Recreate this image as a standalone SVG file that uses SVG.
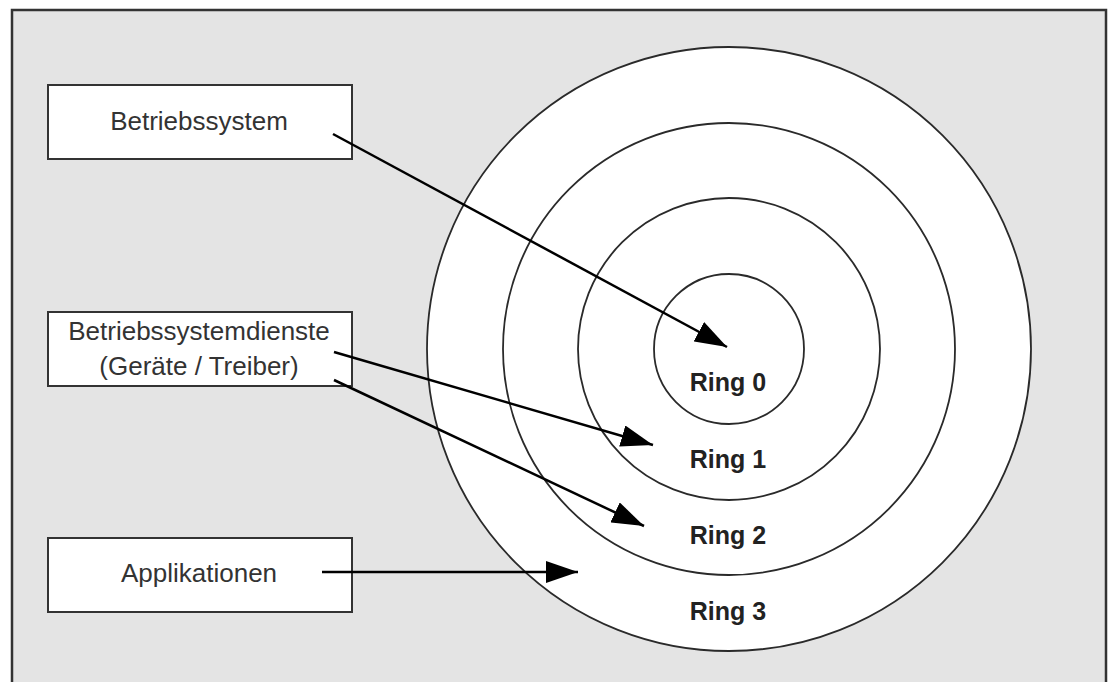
<svg xmlns="http://www.w3.org/2000/svg" width="1115" height="682" viewBox="0 0 1115 682">
  <style>
    .box { fill: #ffffff; stroke: #333333; stroke-width: 2; }
    .ring { fill: #ffffff; stroke: #2a2a2a; stroke-width: 1.8; }
    .label { font-family: "Liberation Sans", Arial, sans-serif; font-size: 26px; fill: #333333; text-anchor: middle; }
    .ringlabel { font-family: "Liberation Sans", Arial, sans-serif; font-size: 25px; font-weight: bold; fill: #222222; text-anchor: middle; }
    .arrow { stroke: #000000; stroke-width: 2.5; fill: none; marker-end: url(#head); }
  </style>
  <defs>
    <marker id="head" viewBox="0 0 32 22" refX="32" refY="11" markerWidth="32" markerHeight="22" markerUnits="userSpaceOnUse" orient="auto">
      <path d="M0,0 L32,11 L0,22 Z" fill="#000000"/>
    </marker>
  </defs>

  <!-- background panel -->
  <rect x="0" y="0" width="1115" height="682" fill="#ffffff"/>
  <rect x="12" y="10" width="1094" height="690" fill="#e4e4e4" stroke="#333333" stroke-width="2.5"/>

  <!-- concentric privilege rings -->
  <g id="rings">
    <circle class="ring" cx="729" cy="349" r="302"/>
    <circle class="ring" cx="729" cy="349" r="226"/>
    <circle class="ring" cx="729" cy="349" r="151"/>
    <circle class="ring" cx="729" cy="349" r="75"/>
    <text class="ringlabel" x="728" y="391">Ring 0</text>
    <text class="ringlabel" x="728" y="468">Ring 1</text>
    <text class="ringlabel" x="728" y="544">Ring 2</text>
    <text class="ringlabel" x="728" y="620">Ring 3</text>
  </g>

  <g id="betriebssystem">
    <rect class="box" x="48" y="85" width="304" height="74"/>
    <text class="label" x="199" y="130">Betriebssystem</text>
  </g>

  <g id="dienste">
    <rect class="box" x="48" y="312" width="304" height="74"/>
    <text class="label" x="199" y="340">Betriebssystemdienste</text>
    <text class="label" x="199" y="375">(Geräte / Treiber)</text>
  </g>

  <g id="applikationen">
    <rect class="box" x="48" y="538" width="304" height="74"/>
    <text class="label" x="199" y="582">Applikationen</text>
  </g>

  <!-- connectors -->
  <g id="connectors">
    <line class="arrow" x1="333" y1="134" x2="727" y2="347"/>
    <line class="arrow" x1="334" y1="352" x2="653" y2="445"/>
    <line class="arrow" x1="334" y1="380" x2="644" y2="526"/>
    <line class="arrow" x1="322" y1="572" x2="578" y2="572"/>
  </g>
</svg>
